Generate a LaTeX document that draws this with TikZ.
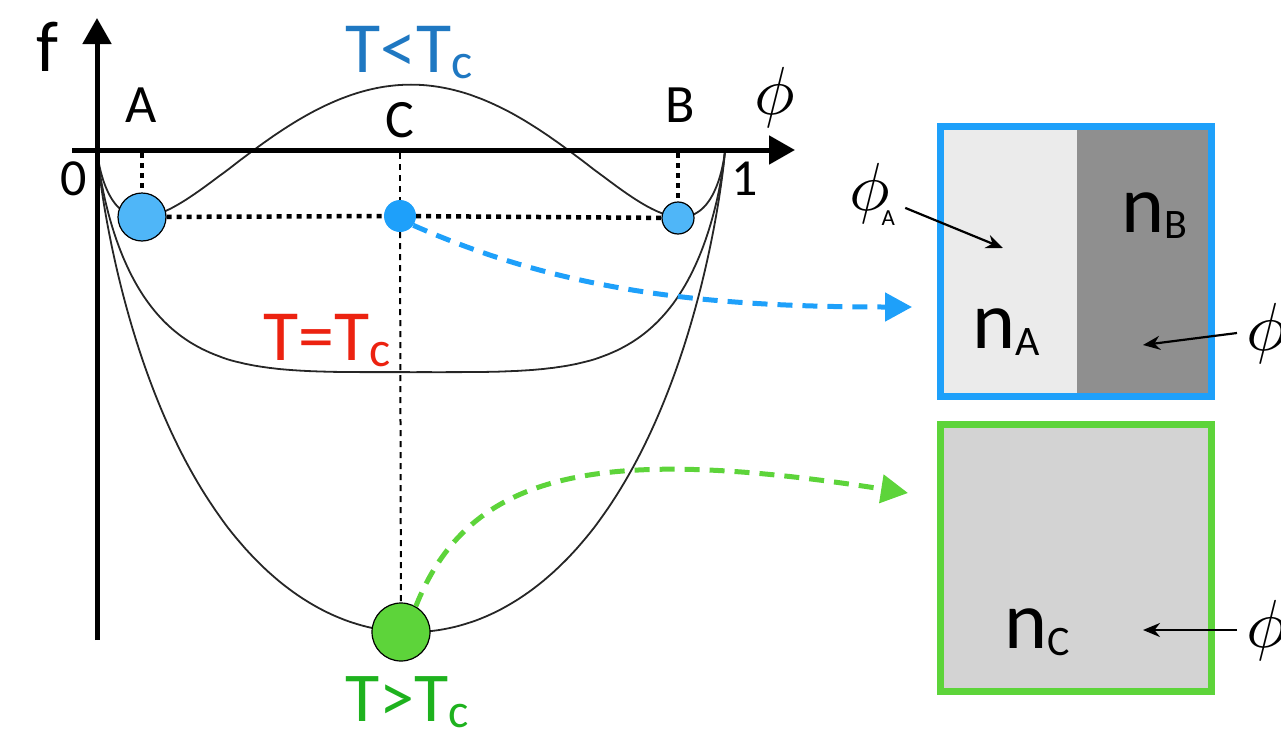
\documentclass[tikz,border=0pt]{standalone}
\usepackage{graphicx}
\usepackage{fontspec}
\setmainfont{Carlito}
\usetikzlibrary{arrows.meta}
\usepgflibrary{fpu}
\definecolor{wellblue}{RGB}{79,182,248}
\definecolor{skyblue}{RGB}{30,160,250}
\definecolor{lowblue}{RGB}{31,120,194}
\definecolor{critred}{RGB}{236,34,16}
\definecolor{highgreen}{RGB}{30,178,30}
\definecolor{limegreen}{RGB}{93,212,58}
\definecolor{paleg}{RGB}{235,235,235}
\definecolor{darkg}{RGB}{143,143,143}
\definecolor{midg}{RGB}{211,211,211}
\newcommand{\fsz}[1]{\fontsize{#1}{#1}\selectfont}
\newcommand{\sublbl}[5]{{\fsz{#1}#3}\raisebox{-#5pt}{\fsz{#2}#4}}
\newcommand{\bigphi}{\scalebox{6.8}{$\phi$}}
\tikzset{
  axis/.style={line width=5pt, -{Triangle[length=26pt,width=28pt]}},
  curve/.style={line width=1.8pt, black!85},
  dotline/.style={line width=4.5pt, dash pattern=on 5pt off 5pt},
  guide/.style={line width=2pt, dash pattern=on 6pt off 5pt},
  flow/.style={line width=5pt, dash pattern=on 15pt off 10pt, -{Triangle[length=27pt,width=28pt]}},
  pointer/.style={line width=2.2pt, -{Stealth[length=17pt,width=14pt]}},
  well/.style={circle, draw=black, line width=1.2pt, inner sep=0pt},
  lbl/.style={inner sep=0pt, anchor=base west},
}
\begin{document}
\begin{tikzpicture}[x=1pt, y=-1pt,
  declare function={fh(\p,\c)=\p*ln(\p)+(1-\p)*ln(1-\p)+\c*\p*(1-\p);
                    ph(\t)=(1-cos(\t))/2;}]
\useasboundingbox (0,0) rectangle (1281,736);

% free energy curves
\coordinate (orig) at (97,150);
\coordinate (one) at (725,150);
\begin{scope}[/pgf/fpu=true, /pgf/fpu/output format=fixed]
\foreach \cc/\kk in {3/1150, 2/1150, 1/1088}
  \draw[curve] (orig) -- plot[variable=\t, domain=0.4:179.6, samples=181]
    ({97+628*ph(\t)}, {150-\kk*fh(ph(\t),\cc)}) -- (one);
\end{scope}

% axes
\draw[axis] (72,150) -- (795,150);
\draw[axis] (97,640) -- (97,18);
\node[font=\fsz{72}] (flab) at (47,47) {f};
\node[font=\fsz{54}] (labA) at (141,105) {A};
\node[font=\fsz{54}] (labC) at (400,120) {C};
\node[font=\fsz{54}] (labB) at (680,105) {B};
\node[font=\fsz{52}] (lab0) at (74,179) {0};
\node[font=\fsz{52}] (lab1) at (745,179) {1};
\node (labphi) at (775,97) {\bigphi};

% temperatures
\node[lbl, text=lowblue] (lowT) at (345,72) {\sublbl{72}{50}{T<T}{c}{6}};
\node[lbl, text=critred] (critT) at (263,360) {\sublbl{72}{50}{T=T}{c}{6}};
\node[lbl, text=highgreen] (highT) at (345,721) {\sublbl{70}{48}{T>T}{c}{6}};

% minima
\node[well, fill=wellblue, minimum size=48pt] (ptA) at (142,217) {};
\node[well, fill=wellblue, minimum size=32pt] (ptB) at (678,218) {};
\node[circle, fill=skyblue, inner sep=0pt, minimum size=32pt] (ptC) at (400,216) {};
\node[well, fill=limegreen, minimum size=58pt] (ptG) at (401,632) {};
\coordinate (axA) at (142,153);
\coordinate (axB) at (678,153);
\coordinate (axC) at (400,153);
\draw[dotline] (axA) -- (ptA);
\draw[dotline] (axB) -- (ptB);
\draw[dotline] (ptA) -- (ptC);
\draw[dotline] (ptC) -- (ptB);
\draw[guide] (axC) -- (ptC);
\draw[guide] (ptC) -- (ptG);

% boxes
\fill[paleg] (940,127) rectangle (1077,397);
\fill[darkg] (1077,127) rectangle (1211,397);
\draw[skyblue, line width=7pt] (940.5,126.5) rectangle (1211.5,396.5);
\fill[midg] (940,424) rectangle (1211,692);
\draw[limegreen, line width=7pt] (940.5,424.5) rectangle (1211.5,691.5);
\node[lbl] (nA) at (972,348) {\sublbl{82}{42}{n}{A}{7}};
\node[lbl] (nB) at (1121,232) {\sublbl{82}{42}{n}{B}{6}};
\node[lbl] (nC) at (1004,648) {\sublbl{82}{42}{n}{C}{7}};

% flows
\coordinate (boxTin) at (912,307);
\coordinate (boxBin) at (908,493);
\draw[flow, skyblue] (ptC.-35) .. controls (560,290) and (700,307) .. (boxTin);
\draw[flow, limegreen] (ptG.60) .. controls (470,470) and (600,445) .. (boxBin);

% pointers
\node[lbl] (phiA) at (849,210) {\bigphi\kern-8pt\raisebox{-15pt}{\fsz{23}A}};
\coordinate (inA) at (1003,248);
\draw[pointer] ([xshift=10pt,yshift=-14pt]phiA.east) -- (inA);
\node[inner ysep=0pt, inner xsep=9pt, anchor=west] (phiB) at (1237,333) {\bigphi};
\coordinate (inB) at (1143,345);
\draw[pointer] (phiB.west) -- (inB);
\node[inner ysep=0pt, inner xsep=9pt, anchor=west] (phiC) at (1237,630) {\bigphi};
\coordinate (inC) at (1143,630);
\draw[pointer] (phiC.west) -- (inC);
\end{tikzpicture}
\end{document}
